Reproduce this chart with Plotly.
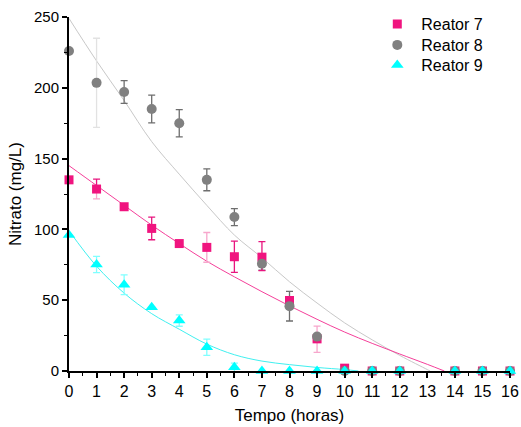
import plotly.graph_objects as go

# ---- data ----
tempo = [0, 1, 2, 3, 4, 5, 6, 7, 8, 9, 10, 11, 12, 14, 15, 16]
reator7 = [135, 128.5, 116, 100.7, 90, 87.3, 80.7, 80.4, 49.8, 22.7, 2, 0, 0, 0, 0, 0]
reator8 = [226, 203.5, 197, 185, 175, 135, 108.7, 75.7, 45.8, 24.3, 0, 0, 0, 0, 0, 0]
reator9 = [96, 75.2, 60.9, 45, 35.6, 16.8, 2.6, 0, 0, 0, 0, 0, 0, 0, 0, 0]

# error bars (dark / light parts)
r7_err_dark_plus = [0, 7, 0, 8, 0, 0, 11, 11, 0, 0, 0, 0, 0, 0, 0, 0]
r7_err_dark_minus = [0, 0, 0, 8, 0, 0, 11, 9.5, 0, 0, 0, 0, 0, 0, 0, 0]
r7_err_light_plus = [0, 0, 0, 0, 0, 10.5, 0, 0, 0, 9, 0, 0, 0, 0, 0, 0]
r7_err_light_minus = [0, 7, 0, 0, 0, 10.5, 0, 0, 0, 9.5, 0, 0, 0, 0, 0, 0]
r8_err_dark = [0, 0, 8, 9.8, 9.6, 7.7, 6, 4.5, 10.5, 0, 0, 0, 0, 0, 0, 0]
r8_err_light = [0, 31.5, 0, 0, 0, 0, 0, 0, 0, 0, 0, 0, 0, 0, 0, 0]
r9_err = [0, 5.7, 7, 0, 4, 5.7, 3, 0, 0, 0, 0, 0, 0, 0, 0, 0]

# fitted curves
fit7_t = [0, 1, 2, 3, 4, 5, 6, 7, 8, 9, 10, 11, 12, 13, 13.62]
fit7_y = [145, 131, 117, 103, 90, 77.5, 66.5, 56, 46, 36.5, 27.5, 19.5, 12, 4.7, 0]
fit8_t = [0, 1, 2, 3, 4, 5, 6, 7, 8, 9, 10, 11, 12, 13, 13.1]
fit8_y = [249, 219, 191, 162, 139, 117, 96, 80, 63, 48, 34, 22, 11, 1, 0]
fit9_t = [0, 1, 2, 3, 4, 5, 6, 7, 8, 9, 10, 10.5]
fit9_y = [99, 74, 55, 40.5, 29.5, 19, 11.5, 7, 4.5, 2.5, 1, 0]

x_ticks = list(range(0, 17))
y_ticks = [0, 50, 100, 150, 200, 250]

PINK = "#F0147F"
GRAY = "#808080"
CYAN = "#00FFFF"

fig = go.Figure()

# fit lines
fig.add_trace(go.Scatter(x=fit8_t, y=fit8_y, mode="lines", line=dict(color="#C8C8C8", width=1, shape="spline"),
                         showlegend=False, hoverinfo="skip", cliponaxis=False))
fig.add_trace(go.Scatter(x=fit7_t, y=fit7_y, mode="lines", line=dict(color="#F5409A", width=1, shape="spline"),
                         showlegend=False, hoverinfo="skip", cliponaxis=False))
fig.add_trace(go.Scatter(x=fit9_t, y=fit9_y, mode="lines", line=dict(color="#40F0F0", width=1, shape="spline"),
                         showlegend=False, hoverinfo="skip", cliponaxis=False))

# error bar only traces
def err_trace(y, plus, minus, color):
    return go.Scatter(x=tempo, y=y, mode="markers", marker=dict(size=1, opacity=0),
                      error_y=dict(type="data", array=plus, arrayminus=minus, color=color, thickness=1.3, width=3.5),
                      showlegend=False, hoverinfo="skip", cliponaxis=False)

fig.add_trace(err_trace(reator8, r8_err_light, r8_err_light, "#E2E2E2"))
fig.add_trace(err_trace(reator8, r8_err_dark, r8_err_dark, "#6E6E6E"))
fig.add_trace(err_trace(reator7, r7_err_light_plus, r7_err_light_minus, "#F7A6CC"))
fig.add_trace(err_trace(reator7, r7_err_dark_plus, r7_err_dark_minus, "#E8157F"))
fig.add_trace(err_trace(reator9, r9_err, r9_err, "#80FFFF"))

# markers
fig.add_trace(go.Scatter(x=tempo, y=reator7, mode="markers", name="Reator 7", legend="legend",
                         marker=dict(symbol="square", size=9, color=PINK), cliponaxis=False))
fig.add_trace(go.Scatter(x=tempo, y=reator8, mode="markers", name="Reator 8", legend="legend2",
                         marker=dict(symbol="circle", size=10, color=GRAY), cliponaxis=False))
fig.add_trace(go.Scatter(x=tempo, y=reator9, mode="markers", name="Reator 9", legend="legend3",
                         marker=dict(symbol="triangle-up", size=11, color=CYAN), cliponaxis=False))

font_family = "Liberation Sans, Arial, sans-serif"

def leg(row_y_px):
    # legend row centred at the given pixel height from top of the plot area
    return dict(x=0.690, y=1 - (row_y_px - 17) / 354, xanchor="left", yanchor="middle",
                bgcolor="rgba(0,0,0,0)", font=dict(size=16, family=font_family), itemwidth=38)

fig.update_layout(
    width=521, height=427,
    margin=dict(l=69, r=11, t=17, b=56, autoexpand=False),
    paper_bgcolor="white", plot_bgcolor="white",
    font=dict(family=font_family, color="black"),
    showlegend=True,
    legend=leg(24), legend2=leg(45), legend3=leg(65),
    xaxis=dict(range=[0, 16], tickmode="array", tickvals=x_ticks, ticktext=[str(v) for v in x_ticks],
               automargin=False,
               showgrid=False, zeroline=False, showline=True, linecolor="black", linewidth=2,
               ticks="outside", ticklen=5, tickwidth=1.5, tickcolor="black",
               tickfont=dict(size=16), title=dict(text="Tempo (horas)", font=dict(size=17), standoff=10),
               minor=dict(dtick=0.5, ticks="outside", ticklen=3, tickwidth=1, tickcolor="black")),
    yaxis=dict(range=[0, 250], tickmode="array", tickvals=y_ticks, ticktext=[str(v) for v in y_ticks],
               automargin=False,
               showgrid=False, zeroline=False, showline=True, linecolor="black", linewidth=2,
               ticks="outside", ticklen=5, tickwidth=1.5, tickcolor="black",
               tickfont=dict(size=15), title=dict(text="Nitrato (mg/L)", font=dict(size=17), standoff=8),
               minor=dict(dtick=25, ticks="outside", ticklen=3, tickwidth=1, tickcolor="black")),
)

fig.write_html("out.html")
